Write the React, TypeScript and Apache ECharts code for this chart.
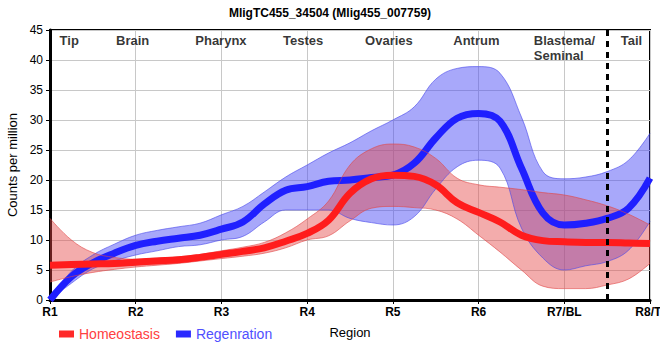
import React, { useEffect, useRef } from 'react';
import * as echarts from 'echarts';

const categories = ['R1', 'R2', 'R3', 'R4', 'R5', 'R6', 'R7/BL', 'R8/TI'];
const regionNames = ['Tip', 'Brain', 'Pharynx', 'Testes', 'Ovaries', 'Antrum', 'Blastema/\nSeminal', 'Tail'];
const regionPos = [0.23, 0.97, 2.0, 2.96, 3.96, 4.98, 5.65, 6.79];
const tailBoundary = 6.5;

// sample positions along the region axis (in region units, R1 = 0)
const samplePos = [
  0, 0.25, 0.5, 0.75, 1, 1.25, 1.5, 1.75, 2, 2.25, 2.5, 2.75, 3, 3.25, 3.5,
  3.75, 4, 4.25, 4.5, 4.75, 5, 5.25, 5.5, 5.75, 6, 6.25, 6.5, 6.75, 7,
];

const regeneration = [0, 3.9, 6.2, 7.8, 9.1, 9.8, 10.3, 10.8, 11.8, 13, 16, 18.3, 18.9, 19.8, 20, 20.4, 20.8, 22.8, 27, 30.3, 31.1, 29.8, 22, 14.5, 12.5, 12.8, 13.6, 15.3, 20.3];
const regenerationUpper = [0, 4.8, 7.5, 9.3, 10.8, 11.6, 12.2, 12.8, 14.2, 15.6, 18, 20.5, 22.5, 24.5, 26.2, 28.2, 30, 32.2, 36.8, 38.6, 38.9, 37.8, 30.5, 21.4, 20.2, 20.5, 21.4, 23.3, 27.8];
const regenerationLower = [0, 2.8, 5.2, 6.5, 7.5, 8.2, 8.9, 9.2, 10, 10.6, 13, 15, 15, 15, 13.6, 12.9, 12.5, 13.9, 18.5, 22.2, 23.3, 22, 12, 7, 5, 5.7, 6.4, 8.3, 13.1];

const homeostasis = [5.8, 5.9, 6.0, 6.1, 6.3, 6.5, 6.7, 7.1, 7.6, 8.1, 8.7, 9.8, 11.1, 13.3, 17.8, 20.2, 20.8, 20.6, 19.2, 16.2, 14.6, 13, 10.8, 9.9, 9.7, 9.6, 9.6, 9.5, 9.4];
const homeostasisUpper = [13.6, 10, 7.9, 7.1, 6.8, 7.0, 7.2, 7.6, 8.2, 8.8, 9.6, 11.2, 13.5, 16.5, 22.5, 25.2, 26, 25.5, 23.6, 20.3, 19.2, 18.8, 18.4, 17.9, 17.5, 16.7, 15.7, 14.3, 12.5];
const homeostasisLower = [3, 3.9, 4.6, 5.1, 5.5, 5.8, 6.1, 6.5, 6.9, 7.3, 7.8, 8.7, 10, 10.7, 13.2, 15.3, 15.6, 15.4, 15, 13.5, 10.8, 8, 5, 2.3, 1.9, 1.9, 2.5, 3.5, 6.1];

const FONT = '"Liberation Sans", Arial, sans-serif';
const SMOOTH = 0.4;

function band(key: string, lower: number[], upper: number[], fill: string, edge: string) {
  return [
    {
      name: key + ' lower',
      type: 'line',
      xAxisIndex: 1,
      stack: key,
      data: lower,
      smooth: SMOOTH,
      symbol: 'none',
      silent: true,
      lineStyle: { width: 1, color: edge },
    },
    {
      name: key + ' band',
      type: 'line',
      xAxisIndex: 1,
      stack: key,
      data: upper.map((u, i) => +(u - lower[i]).toFixed(3)),
      smooth: SMOOTH,
      symbol: 'none',
      silent: true,
      lineStyle: { width: 1, color: edge },
      areaStyle: { color: fill, opacity: 1 },
    },
  ];
}

export default function App() {
  const ref = useRef<HTMLDivElement>(null);
  useEffect(() => {
    if (!ref.current) return;
    const chart = echarts.init(ref.current, null, { renderer: 'svg' });
    const option: any = {
      animation: false,
      backgroundColor: '#fff',
      textStyle: { fontFamily: FONT },
      title: {
        text: 'MligTC455_34504 (Mlig455_007759)',
        left: 'center',
        top: 2,
        textStyle: { fontSize: 12, fontWeight: 'bold', color: '#000', fontFamily: FONT },
      },
      legend: {
        left: 54,
        top: 322,
        icon: 'rect',
        itemWidth: 15,
        itemHeight: 7,
        itemGap: 16,
        textStyle: { fontSize: 14, fontFamily: FONT },
        data: [
          { name: 'Homeostasis', textStyle: { color: '#ff4040' } },
          { name: 'Regenration', textStyle: { color: '#5050ff' } },
        ],
      },
      grid: {
        left: 50,
        right: 10,
        top: 30,
        bottom: 60,
        outerBoundsMode: 'none',
        containLabel: false,
        show: true,
        borderColor: '#000',
        borderWidth: 2,
        backgroundColor: 'transparent',
      },
      xAxis: [
        {
          type: 'value',
          min: 0,
          max: categories.length - 1,
          interval: 1,
          name: 'Region',
          nameLocation: 'middle',
          nameGap: 26,
          nameTextStyle: { fontSize: 13, color: '#000', fontFamily: FONT },
          axisLine: { show: true, lineStyle: { color: '#000', width: 3 } },
          axisTick: { show: true, length: 4, lineStyle: { color: '#000', width: 1 } },
          axisLabel: {
            formatter: (v: number) => categories[Math.round(v)] ?? '',
            color: '#000',
            fontSize: 12,
            fontWeight: 'bold',
            margin: 6,
            fontFamily: FONT,
            hideOverlap: false,
          },
          splitLine: { show: true, lineStyle: { color: '#c8c8c8', width: 1 } },
        },
        {
          type: 'category',
          data: samplePos.map(String),
          boundaryGap: false,
          show: false,
        },
      ],
      yAxis: {
        type: 'value',
        min: 0,
        max: 45,
        interval: 5,
        name: 'Counts per million',
        nameLocation: 'middle',
        nameGap: 20,
        nameTextStyle: { fontSize: 13, color: '#000', fontFamily: FONT },
        axisLine: { show: true, lineStyle: { color: '#000', width: 3 } },
        axisTick: { show: true, length: 4, lineStyle: { color: '#000', width: 1 } },
        axisLabel: { color: '#000', fontSize: 12, margin: 7, fontFamily: FONT },
        splitLine: { show: true, lineStyle: { color: '#c8c8c8', width: 1 } },
      },
      series: [
        ...band('reg', regenerationLower, regenerationUpper, 'rgba(70,70,245,0.47)', 'rgba(70,70,235,0.6)'),
        {
          name: 'Regenration',
          type: 'line',
          xAxisIndex: 1,
          data: regeneration,
          smooth: SMOOTH,
          symbol: 'none',
          lineStyle: { width: 7, color: '#1f1fff' },
          itemStyle: { color: '#2a2aff' },
        },
        ...band('hom', homeostasisLower, homeostasisUpper, 'rgba(228,72,72,0.45)', 'rgba(225,70,70,0.6)'),
        {
          name: 'Homeostasis',
          type: 'line',
          xAxisIndex: 1,
          data: homeostasis,
          smooth: SMOOTH,
          symbol: 'none',
          lineStyle: { width: 7, color: '#ff1c1c' },
          itemStyle: { color: '#ff2a2a' },
        },
        {
          name: 'regions',
          type: 'scatter',
          xAxisIndex: 0,
          symbolSize: 1,
          silent: true,
          itemStyle: { color: 'rgba(0,0,0,0)' },
          data: regionPos.map((p, i) => ({
            name: regionNames[i],
            value: [p, 44.5],
            label: {
              show: true,
              formatter: regionNames[i],
              position: [0, 0],
              align: regionNames[i].includes('\n') ? 'left' : 'center',
              verticalAlign: 'top',
              fontSize: 13,
              lineHeight: 15,
              fontWeight: 'bold',
              color: '#000',
              fontFamily: FONT,
            },
          })),
          markLine: {
            silent: true,
            symbol: ['none', 'none'],
            label: { show: false },
            lineStyle: { color: '#000', type: [6, 5], width: 3 },
            data: [{ xAxis: tailBoundary }],
          },
        },
      ],
    };
    chart.setOption(option);
    return () => chart.dispose();
  }, []);
  return <div ref={ref} style={{ position: 'fixed', left: 0, top: 0, width: 660, height: 360 }} />;
}
